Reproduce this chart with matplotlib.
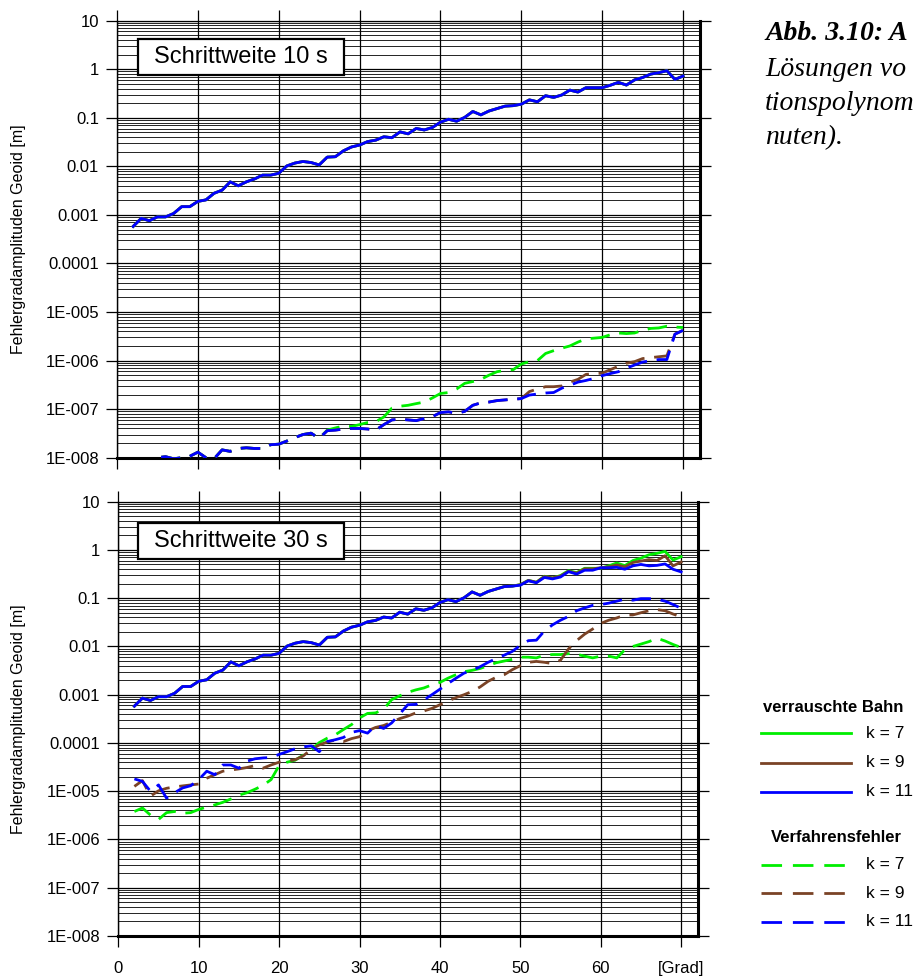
import matplotlib
matplotlib.use("Agg")
import matplotlib.pyplot as plt
from matplotlib.ticker import FixedLocator, FixedFormatter, LogLocator, NullFormatter
from matplotlib.lines import Line2D
from matplotlib.patches import Rectangle

plt.rcParams['font.family'] = ['Liberation Sans', 'DejaVu Sans']

# ---------------- data ----------------
degrees = list(range(2, 71))

# Schrittweite 10 s: noisy-orbit solutions (identical for k = 7, 9, 11)
noise_10s_k7 = [5.8e-4, 8.5e-4, 7.6e-4, 9.1e-4, 9.1e-4, 1.07e-3, 1.48e-3, 1.48e-3, 1.9e-3, 2.04e-3,
                2.79e-3, 3.24e-3, 4.8e-3, 3.98e-3, 4.8e-3, 5.5e-3, 6.6e-3, 6.6e-3, 7.2e-3, 0.0102,
                0.0117, 0.0126, 0.0120, 0.0107, 0.0155, 0.0158, 0.0209, 0.0251, 0.0275, 0.0324,
                0.0347, 0.0407, 0.0389, 0.0513, 0.0468, 0.0603, 0.0562, 0.0631, 0.0813, 0.0933,
                0.0851, 0.102, 0.135, 0.115, 0.138, 0.155, 0.174, 0.178, 0.191, 0.234,
                0.214, 0.285, 0.263, 0.295, 0.372, 0.339, 0.417, 0.417, 0.417, 0.468,
                0.537, 0.473, 0.603, 0.676, 0.794, 0.851, 0.933, 0.617, 0.724]
noise_10s_k9 = list(noise_10s_k7)
noise_10s_k11 = list(noise_10s_k7)

# Schrittweite 10 s: method errors
method_10s_k7 = [7e-9, 8e-9, 9e-9, 1.0e-8, 1.05e-8, 9.5e-9, 1.0e-8, 1.07e-8, 1.3e-8, 1.0e-8,
                 9.5e-9, 1.45e-8, 1.35e-8, 1.55e-8, 1.6e-8, 1.55e-8, 1.55e-8, 1.85e-8, 1.9e-8, 2.2e-8,
                 2.6e-8, 3.0e-8, 3.2e-8, 2.5e-8, 3.7e-8, 4.1e-8, 4.5e-8, 4.4e-8, 4.8e-8, 5.3e-8,
                 5.5e-8, 6.9e-8, 1.05e-7, 1.15e-7, 1.2e-7, 1.3e-7, 1.4e-7, 1.7e-7, 2.1e-7, 2.2e-7,
                 2.6e-7, 3.4e-7, 3.7e-7, 4.1e-7, 5.0e-7, 5.9e-7, 6.3e-7, 6.5e-7, 8.5e-7, 9.5e-7,
                 1.0e-6, 1.4e-6, 1.6e-6, 1.8e-6, 2.0e-6, 2.4e-6, 2.8e-6, 2.9e-6, 3.0e-6, 3.4e-6,
                 3.7e-6, 3.6e-6, 3.7e-6, 4.2e-6, 4.6e-6, 4.7e-6, 5.1e-6, 4.9e-6, 4.8e-6]
method_10s_k9 = [7e-9, 8e-9, 9e-9, 1.0e-8, 1.05e-8, 9.5e-9, 1.0e-8, 1.07e-8, 1.3e-8, 1.0e-8,
                 9.5e-9, 1.45e-8, 1.35e-8, 1.55e-8, 1.6e-8, 1.55e-8, 1.55e-8, 1.85e-8, 1.9e-8, 2.2e-8,
                 2.6e-8, 3.0e-8, 3.2e-8, 2.5e-8, 3.6e-8, 3.7e-8, 3.9e-8, 4.0e-8, 4.0e-8, 3.9e-8,
                 3.7e-8, 4.8e-8, 6.0e-8, 6.2e-8, 6.0e-8, 5.8e-8, 6.4e-8, 7.0e-8, 8.5e-8, 8.8e-8,
                 8.2e-8, 9.0e-8, 1.2e-7, 1.35e-7, 1.4e-7, 1.5e-7, 1.55e-7, 1.6e-7, 1.65e-7, 2.3e-7,
                 2.6e-7, 2.9e-7, 2.9e-7, 3.0e-7, 3.6e-7, 4.1e-7, 5.2e-7, 5.4e-7, 5.5e-7, 6.5e-7,
                 7.6e-7, 8.8e-7, 9.5e-7, 1.1e-6, 1.15e-6, 1.2e-6, 1.25e-6, 3.5e-6, 4.2e-6]
method_10s_k11 = [7e-9, 8e-9, 9e-9, 1.0e-8, 1.05e-8, 9.5e-9, 1.0e-8, 1.07e-8, 1.3e-8, 1.0e-8,
                  9.5e-9, 1.45e-8, 1.35e-8, 1.55e-8, 1.6e-8, 1.55e-8, 1.55e-8, 1.85e-8, 1.9e-8, 2.2e-8,
                  2.6e-8, 3.0e-8, 3.2e-8, 2.5e-8, 3.6e-8, 3.7e-8, 3.9e-8, 4.0e-8, 4.0e-8, 3.9e-8,
                  3.7e-8, 4.8e-8, 6.0e-8, 6.2e-8, 6.0e-8, 5.8e-8, 6.4e-8, 7.0e-8, 8.5e-8, 8.8e-8,
                  8.2e-8, 9.0e-8, 1.2e-7, 1.35e-7, 1.4e-7, 1.5e-7, 1.55e-7, 1.6e-7, 1.65e-7, 1.95e-7,
                  2.05e-7, 2.15e-7, 2.2e-7, 2.7e-7, 3.1e-7, 3.6e-7, 3.9e-7, 4.3e-7, 4.9e-7, 5.4e-7,
                  5.9e-7, 7.0e-7, 8.1e-7, 9.3e-7, 1.0e-6, 1.05e-6, 1.05e-6, 3.5e-6, 4.2e-6]

# Schrittweite 30 s: noisy-orbit solutions
noise_30s_k7 = list(noise_10s_k7)
noise_30s_k9 = [5.8e-4, 8.5e-4, 7.6e-4, 9.1e-4, 9.1e-4, 1.07e-3, 1.48e-3, 1.48e-3, 1.9e-3, 2.04e-3,
                2.79e-3, 3.24e-3, 4.8e-3, 3.98e-3, 4.8e-3, 5.5e-3, 6.6e-3, 6.6e-3, 7.2e-3, 0.0102,
                0.0117, 0.0126, 0.0120, 0.0107, 0.0155, 0.0158, 0.0209, 0.0251, 0.0275, 0.0324,
                0.0347, 0.0407, 0.0389, 0.0513, 0.0468, 0.0603, 0.0562, 0.0631, 0.0813, 0.0933,
                0.0851, 0.102, 0.135, 0.115, 0.138, 0.155, 0.174, 0.178, 0.191, 0.234,
                0.214, 0.282, 0.263, 0.288, 0.363, 0.331, 0.407, 0.407, 0.427, 0.447,
                0.49, 0.447, 0.55, 0.589, 0.631, 0.603, 0.759, 0.468, 0.562]
noise_30s_k11 = [5.8e-4, 8.5e-4, 7.6e-4, 9.1e-4, 9.1e-4, 1.07e-3, 1.48e-3, 1.48e-3, 1.9e-3, 2.04e-3,
                 2.79e-3, 3.24e-3, 4.8e-3, 3.98e-3, 4.8e-3, 5.5e-3, 6.6e-3, 6.6e-3, 7.2e-3, 0.0102,
                 0.0117, 0.0126, 0.0120, 0.0107, 0.0155, 0.0158, 0.0209, 0.0251, 0.0275, 0.0324,
                 0.0347, 0.0407, 0.0389, 0.0513, 0.0468, 0.0603, 0.0562, 0.0631, 0.0813, 0.0933,
                 0.0851, 0.102, 0.135, 0.115, 0.138, 0.155, 0.174, 0.178, 0.186, 0.229,
                 0.209, 0.269, 0.251, 0.275, 0.355, 0.316, 0.380, 0.380, 0.427, 0.427,
                 0.437, 0.398, 0.468, 0.501, 0.468, 0.479, 0.513, 0.398, 0.351]

# Schrittweite 30 s: method errors
method_30s_k7 = [3.8e-6, 4.5e-6, 3.2e-6, 2.6e-6, 3.6e-6, 3.8e-6, 3.5e-6, 3.6e-6, 4.2e-6, 4.7e-6,
                 5.2e-6, 5.9e-6, 6.9e-6, 8.3e-6, 9.3e-6, 1.1e-5, 1.32e-5, 1.74e-5, 3.4e-5, 4.0e-5,
                 4.4e-5, 5.6e-5, 7.2e-5, 1.02e-4, 1.26e-4, 1.48e-4, 1.9e-4, 2.4e-4, 3.3e-4, 4.1e-4,
                 4.2e-4, 5.0e-4, 7.9e-4, 9.5e-4, 1.12e-3, 1.26e-3, 1.38e-3, 1.6e-3, 1.8e-3, 2.2e-3,
                 2.6e-3, 3.0e-3, 3.2e-3, 3.5e-3, 4.0e-3, 4.6e-3, 5.0e-3, 5.4e-3, 6.0e-3, 6.0e-3,
                 5.8e-3, 6.6e-3, 6.8e-3, 6.8e-3, 7.1e-3, 6.9e-3, 6.3e-3, 5.8e-3, 6.3e-3, 6.3e-3,
                 5.8e-3, 8.5e-3, 0.010, 0.0112, 0.0126, 0.0148, 0.013, 0.011, 0.0095]
method_30s_k9 = [1.26e-5, 1.66e-5, 7.9e-6, 1.02e-5, 1.15e-5, 1.23e-5, 1.29e-5, 1.35e-5, 1.41e-5, 1.86e-5,
                 2.2e-5, 2.6e-5, 2.75e-5, 2.9e-5, 3.1e-5, 3.4e-5, 3.0e-5, 3.5e-5, 4.0e-5, 4.2e-5,
                 4.5e-5, 5.4e-5, 7.4e-5, 9.1e-5, 1.05e-4, 1.15e-4, 1.07e-4, 1.23e-4, 1.35e-4, 1.78e-4,
                 2.1e-4, 2.3e-4, 2.7e-4, 3.2e-4, 3.6e-4, 4.2e-4, 4.6e-4, 5.2e-4, 6.2e-4, 7.4e-4,
                 8.7e-4, 1.0e-3, 1.17e-3, 1.45e-3, 1.9e-3, 2.3e-3, 2.6e-3, 3.3e-3, 4.0e-3, 4.7e-3,
                 4.9e-3, 4.7e-3, 4.4e-3, 5.2e-3, 8.9e-3, 0.0132, 0.018, 0.023, 0.030, 0.035,
                 0.039, 0.045, 0.045, 0.050, 0.055, 0.058, 0.055, 0.047, 0.041]
method_30s_k11 = [1.8e-5, 1.6e-5, 1.0e-5, 1.35e-5, 7.2e-6, 9.3e-6, 1.17e-5, 1.3e-5, 1.74e-5, 2.6e-5,
                  2.2e-5, 3.5e-5, 3.5e-5, 3.0e-5, 4.2e-5, 4.7e-5, 4.9e-5, 5.0e-5, 5.8e-5, 6.6e-5,
                  7.6e-5, 8.3e-5, 8.7e-5, 6.6e-5, 1.07e-4, 1.17e-4, 1.3e-4, 1.66e-4, 1.8e-4, 1.6e-4,
                  2.3e-4, 2.0e-4, 2.6e-4, 4.0e-4, 6.2e-4, 6.3e-4, 7.8e-4, 1.0e-3, 1.3e-3, 1.7e-3,
                  2.2e-3, 2.8e-3, 3.2e-3, 3.8e-3, 4.7e-3, 5.6e-3, 6.6e-3, 7.9e-3, 0.0105, 0.0132,
                  0.0135, 0.021, 0.028, 0.035, 0.042, 0.055, 0.063, 0.071, 0.074, 0.079,
                  0.087, 0.095, 0.091, 0.098, 0.098, 0.095, 0.087, 0.074, 0.062]

series_labels = ["k = 7", "k = 9", "k = 11"]
series_colors = ["#00ee00", "#7a4326", "#0000ff"]
panel_titles = ["Schrittweite 10 s", "Schrittweite 30 s"]
y_ticks = [1e-8, 1e-7, 1e-6, 1e-5, 1e-4, 1e-3, 1e-2, 1e-1, 1, 10]
y_ticklabels = ["1E-008", "1E-007", "1E-006", "1E-005", "0.0001", "0.001", "0.01", "0.1", "1", "10"]
x_ticks = [0, 10, 20, 30, 40, 50, 60, 70]
x_ticklabels = ["0", "10", "20", "30", "40", "50", "60", "[Grad]"]
y_label = "Fehlergradamplituden Geoid [m]"
legend_titles = ["verrauschte Bahn", "Verfahrensfehler"]
caption_lines = ["Abb. 3.10: A", "Lösungen vo", "tionspolynom", "nuten)."]

# ---------------- figure ----------------
W, H = 913, 976
fig = plt.figure(figsize=(W / 100, H / 100), dpi=100)


def fx(px):
    return px / W


def fy(py):
    return 1 - py / H


panels = [
    dict(rect=(117, 20.7, 700, 457.7),
         noise=[noise_10s_k7, noise_10s_k9, noise_10s_k11],
         method=[method_10s_k7, method_10s_k9, method_10s_k11],
         box=(137.7, 39.3, 344, 74.7), xlabels=False),
    dict(rect=(118.3, 501.7, 698, 936),
         noise=[noise_30s_k7, noise_30s_k9, noise_30s_k11],
         method=[method_30s_k7, method_30s_k9, method_30s_k11],
         box=(137.7, 522.7, 344, 559.3), xlabels=True),
]

LW = 2.0
for i, p in enumerate(panels):
    x0, y0, x1, y1 = p["rect"]
    ax = fig.add_axes([fx(x0), fy(y1), fx(x1) - fx(x0), fy(y0) - fy(y1)])
    ax.set_yscale("log")
    ax.set_ylim(1e-8, 10)
    ax.set_xlim(0, 72.1)
    ax.set_axisbelow(True)

    ax.yaxis.set_major_locator(FixedLocator(y_ticks))
    ax.yaxis.set_major_formatter(FixedFormatter(y_ticklabels))
    ax.yaxis.set_minor_locator(LogLocator(base=10, subs=[2, 3, 4, 5, 6, 7, 8, 9], numticks=20))
    ax.yaxis.set_minor_formatter(NullFormatter())
    ax.xaxis.set_major_locator(FixedLocator(x_ticks))
    ax.xaxis.set_major_formatter(FixedFormatter(x_ticklabels))

    ax.grid(True, which="major", axis="both", color="black", lw=0.9)
    ax.grid(True, which="minor", axis="y", color="black", lw=0.6)

    ax.tick_params(axis="y", which="major", direction="out", length=8, width=0.9,
                   left=True, right=True, labelleft=True, labelright=False,
                   labelsize=12, pad=5)
    ax.tick_params(axis="x", which="major", direction="out", length=8, width=0.9,
                   top=True, bottom=True, labeltop=False, labelbottom=p["xlabels"],
                   labelsize=12, pad=10)
    ax.tick_params(which="minor", length=0)

    ax.spines["left"].set_linewidth(1.0)
    ax.spines["top"].set_linewidth(0.9)
    ax.spines["bottom"].set_linewidth(2.2)
    ax.spines["right"].set_linewidth(2.2)

    for vals, col in zip(p["noise"], series_colors):
        ax.plot(degrees, vals, color=col, lw=LW, solid_joinstyle="round", zorder=3)
    for vals, col in zip(p["method"], series_colors):
        ax.plot(degrees, vals, color=col, lw=LW, ls=(0, (7, 3.5)), zorder=3)

    ax.set_ylabel(y_label, fontsize=11.5)
    ax.yaxis.set_label_coords(-(x0 - 26) / (x1 - x0), 0.5)

    bx0, by0, bx1, by1 = p["box"]
    rect = Rectangle((fx(bx0), fy(by1)), fx(bx1) - fx(bx0), fy(by0) - fy(by1),
                     transform=fig.transFigure, facecolor="white", edgecolor="black",
                     lw=1.6, zorder=5, clip_on=False)
    ax.add_patch(rect)
    ax.text(fx((bx0 + bx1) / 2), fy((by0 + by1) / 2), panel_titles[i],
            transform=fig.transFigure, ha="center", va="center", fontsize=17, zorder=6)

# ---------------- legend ----------------
fig.text(fx(763), fy(708), legend_titles[0], fontsize=12, fontweight="bold",
         ha="left", va="center")
for j, (lab, col) in enumerate(zip(series_labels, series_colors)):
    y = [733.3, 762.7, 791.7][j]
    fig.add_artist(Line2D([fx(761), fx(851)], [fy(y), fy(y)], color=col, lw=LW,
                          transform=fig.transFigure))
    fig.text(fx(866), fy(y), lab, fontsize=12.5, ha="left", va="center")

fig.text(fx(836), fy(837), legend_titles[1], fontsize=12, fontweight="bold",
         ha="center", va="center")
for j, (lab, col) in enumerate(zip(series_labels, series_colors)):
    y = [864.7, 893.3, 922][j]
    fig.add_artist(Line2D([fx(761), fx(845)], [fy(y), fy(y)], color=col, lw=LW,
                          ls=(0, (7.4, 3.9)), transform=fig.transFigure))
    fig.text(fx(866), fy(y), lab, fontsize=12.5, ha="left", va="center")

# ---------------- caption ----------------
cap_y = [33, 70, 104, 138]
for j, line in enumerate(caption_lines):
    fig.text(fx(765), fy(cap_y[j]), line, fontsize=20,
             family=["Liberation Serif", "DejaVu Serif"], style="italic",
             fontweight="bold" if j == 0 else "normal", ha="left", va="center")

fig.savefig("out.png", dpi=100)
